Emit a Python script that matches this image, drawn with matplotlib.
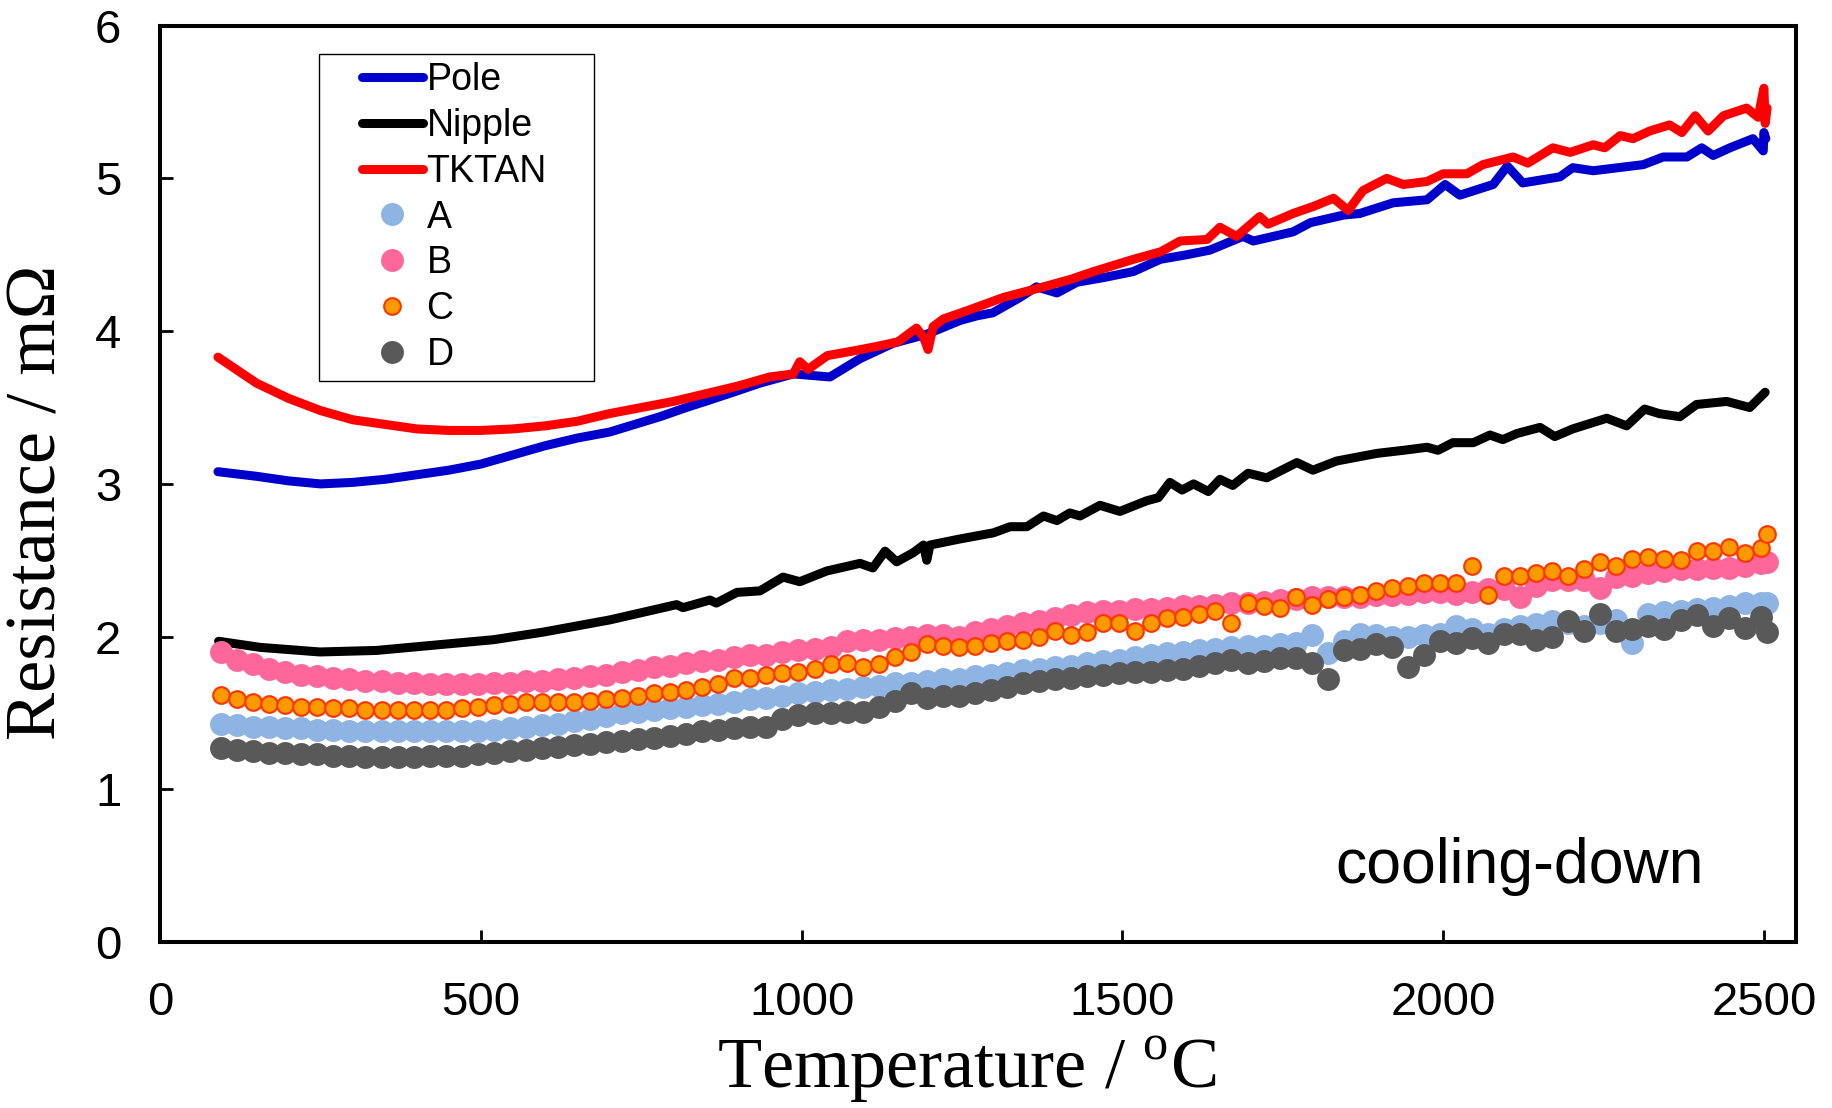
import matplotlib
matplotlib.use("Agg")
import matplotlib.pyplot as plt
from matplotlib.lines import Line2D
from matplotlib.legend_handler import HandlerLine2D

plt.rcParams['font.family'] = ['Liberation Sans', 'DejaVu Sans']
plt.rcParams['mathtext.fontset'] = 'custom'
plt.rcParams['mathtext.rm'] = 'Liberation Serif'

# --- line series ---
temp_pole = [90, 150, 200, 250, 300, 350, 400, 450, 500, 550,
             600, 650, 701, 740, 779, 820, 857, 900, 935, 987,
             1044, 1091, 1142, 1195, 1247, 1273, 1298, 1340, 1366, 1398,
             1429, 1470, 1517, 1559, 1600, 1636, 1688, 1704, 1766, 1793,
             1845, 1870, 1922, 1975, 2003, 2026, 2078, 2100, 2124, 2182,
             2202, 2234, 2312, 2343, 2380, 2403, 2421, 2447, 2483, 2499,
             2500, 2503]
res_pole = [3.08, 3.05, 3.02, 3.00, 3.01, 3.03, 3.06, 3.09, 3.13, 3.19,
            3.25, 3.30, 3.34, 3.39, 3.44, 3.50, 3.55, 3.61, 3.66, 3.72,
            3.70, 3.82, 3.92, 3.98, 4.07, 4.10, 4.12, 4.22, 4.29, 4.25,
            4.32, 4.35, 4.39, 4.47, 4.50, 4.53, 4.62, 4.59, 4.65, 4.71,
            4.76, 4.77, 4.84, 4.86, 4.96, 4.89, 4.96, 5.08, 4.97, 5.01,
            5.07, 5.05, 5.09, 5.14, 5.14, 5.20, 5.15, 5.20, 5.26, 5.18,
            5.30, 5.26]

temp_nipple = [91, 156, 249, 337, 441, 519, 597, 649, 701, 753,
               805, 815, 857, 867, 899, 935, 971, 997, 1039, 1091,
               1111, 1130, 1148, 1174, 1190, 1195, 1200, 1247, 1299, 1325,
               1351, 1377, 1398, 1418, 1434, 1465, 1496, 1538, 1556, 1574,
               1593, 1611, 1634, 1652, 1672, 1696, 1725, 1772, 1797, 1834,
               1859, 1897, 1938, 1975, 1992, 2015, 2047, 2073, 2093, 2115,
               2151, 2174, 2202, 2255, 2286, 2314, 2337, 2369, 2395, 2442,
               2478, 2502]
res_nipple = [1.97, 1.93, 1.90, 1.91, 1.95, 1.98, 2.03, 2.07, 2.11, 2.16,
              2.21, 2.19, 2.24, 2.22, 2.29, 2.30, 2.39, 2.36, 2.43, 2.48,
              2.45, 2.56, 2.49, 2.55, 2.60, 2.50, 2.60, 2.64, 2.68, 2.72,
              2.72, 2.79, 2.76, 2.81, 2.79, 2.86, 2.82, 2.89, 2.91, 3.01,
              2.96, 3.00, 2.95, 3.03, 2.99, 3.07, 3.04, 3.14, 3.09, 3.15,
              3.17, 3.20, 3.22, 3.24, 3.22, 3.27, 3.27, 3.32, 3.29, 3.33,
              3.37, 3.31, 3.36, 3.43, 3.38, 3.49, 3.46, 3.44, 3.52, 3.54,
              3.50, 3.60]

temp_tktan = [90, 150, 200, 250, 300, 350, 400, 450, 500, 550,
              600, 650, 700, 750, 800, 850, 900, 950, 987, 997,
              1010, 1040, 1080, 1117, 1150, 1179, 1190, 1197, 1205, 1221,
              1262, 1314, 1377, 1420, 1455, 1517, 1560, 1590, 1632, 1652,
              1678, 1714, 1727, 1766, 1800, 1829, 1852, 1875, 1912, 1938,
              1975, 2000, 2037, 2062, 2109, 2132, 2171, 2198, 2234, 2252,
              2276, 2296, 2322, 2353, 2372, 2393, 2413, 2437, 2473, 2491,
              2500, 2502, 2505]
res_tktan = [3.83, 3.66, 3.56, 3.48, 3.42, 3.39, 3.36, 3.35, 3.35, 3.36,
             3.38, 3.41, 3.46, 3.50, 3.54, 3.59, 3.64, 3.70, 3.72, 3.80,
             3.75, 3.84, 3.87, 3.90, 3.93, 4.02, 3.96, 3.88, 4.03, 4.08,
             4.14, 4.22, 4.29, 4.34, 4.39, 4.47, 4.52, 4.59, 4.60, 4.68,
             4.62, 4.75, 4.70, 4.77, 4.82, 4.87, 4.79, 4.92, 5.00, 4.96,
             4.98, 5.03, 5.03, 5.09, 5.14, 5.10, 5.20, 5.17, 5.22, 5.20,
             5.28, 5.26, 5.31, 5.35, 5.30, 5.41, 5.31, 5.41, 5.46, 5.40,
             5.59, 5.36, 5.46]

# --- point series A-D share one temperature list ---
temp_pts = [95, 120, 145, 170, 195, 220, 245, 270, 295, 320,
            345, 370, 395, 420, 445, 470, 495, 520, 545, 570,
            595, 620, 645, 670, 695, 720, 745, 770, 795, 820,
            845, 870, 895, 920, 945, 970, 995, 1020, 1045, 1070,
            1095, 1120, 1145, 1170, 1195, 1220, 1245, 1270, 1295, 1320,
            1345, 1370, 1395, 1420, 1445, 1470, 1495, 1520, 1545, 1570,
            1595, 1620, 1645, 1670, 1695, 1720, 1745, 1770, 1795, 1820,
            1845, 1870, 1895, 1920, 1945, 1970, 1995, 2020, 2045, 2070,
            2095, 2120, 2145, 2170, 2195, 2220, 2245, 2270, 2295, 2320,
            2345, 2370, 2395, 2420, 2445, 2470, 2495, 2505]

res_a = [1.43, 1.42, 1.41, 1.41, 1.40, 1.40, 1.39, 1.39, 1.38, 1.38,
         1.38, 1.38, 1.38, 1.38, 1.38, 1.38, 1.38, 1.39, 1.40, 1.41,
         1.42, 1.43, 1.45, 1.46, 1.48, 1.50, 1.51, 1.52, 1.53, 1.54,
         1.55, 1.56, 1.57, 1.59, 1.60, 1.61, 1.63, 1.64, 1.65, 1.66,
         1.67, 1.68, 1.70, 1.70, 1.71, 1.72, 1.72, 1.74, 1.75, 1.76,
         1.78, 1.79, 1.80, 1.81, 1.83, 1.84, 1.85, 1.87, 1.88, 1.89,
         1.90, 1.91, 1.92, 1.93, 1.94, 1.94, 1.95, 1.96, 2.01, 1.89,
         1.97, 2.02, 2.01, 2.00, 2.00, 2.01, 2.02, 2.07, 2.05, 2.02,
         2.05, 2.07, 2.08, 2.10, 2.09, 2.07, 2.09, 2.11, 1.96, 2.15,
         2.16, 2.17, 2.18, 2.19, 2.20, 2.22, 2.22, 2.22]

res_b = [1.90, 1.85, 1.82, 1.79, 1.77, 1.75, 1.74, 1.73, 1.72, 1.71,
         1.71, 1.70, 1.70, 1.69, 1.69, 1.69, 1.69, 1.70, 1.70, 1.71,
         1.71, 1.72, 1.73, 1.74, 1.75, 1.77, 1.78, 1.80, 1.81, 1.83,
         1.84, 1.85, 1.87, 1.88, 1.88, 1.90, 1.91, 1.92, 1.93, 1.97,
         1.98, 1.98, 1.99, 2.00, 2.01, 2.01, 2.00, 2.03, 2.05, 2.07,
         2.09, 2.10, 2.12, 2.14, 2.16, 2.17, 2.17, 2.18, 2.18, 2.19,
         2.20, 2.20, 2.21, 2.22, 2.22, 2.23, 2.24, 2.25, 2.26, 2.26,
         2.26, 2.26, 2.27, 2.27, 2.28, 2.29, 2.29, 2.28, 2.29, 2.31,
         2.31, 2.26, 2.33, 2.37, 2.37, 2.37, 2.32, 2.39, 2.40, 2.42,
         2.43, 2.44, 2.44, 2.45, 2.45, 2.46, 2.48, 2.49]

res_c = [1.62, 1.59, 1.57, 1.56, 1.55, 1.54, 1.54, 1.53, 1.53, 1.52,
         1.52, 1.52, 1.52, 1.52, 1.52, 1.53, 1.54, 1.55, 1.56, 1.57,
         1.57, 1.57, 1.57, 1.58, 1.59, 1.60, 1.61, 1.63, 1.64, 1.65,
         1.67, 1.69, 1.73, 1.73, 1.75, 1.76, 1.77, 1.79, 1.82, 1.83,
         1.80, 1.82, 1.87, 1.90, 1.95, 1.94, 1.93, 1.94, 1.96, 1.97,
         1.98, 2.00, 2.04, 2.01, 2.03, 2.09, 2.09, 2.04, 2.09, 2.12,
         2.13, 2.15, 2.17, 2.09, 2.22, 2.20, 2.19, 2.26, 2.21, 2.25,
         2.26, 2.27, 2.30, 2.32, 2.33, 2.35, 2.35, 2.35, 2.46, 2.27,
         2.40, 2.40, 2.42, 2.43, 2.40, 2.44, 2.49, 2.46, 2.51, 2.52,
         2.51, 2.50, 2.56, 2.56, 2.59, 2.55, 2.58, 2.67]

res_d = [1.27, 1.26, 1.25, 1.24, 1.24, 1.23, 1.23, 1.22, 1.22, 1.21,
         1.21, 1.21, 1.21, 1.22, 1.22, 1.22, 1.23, 1.24, 1.25, 1.26,
         1.27, 1.28, 1.29, 1.30, 1.31, 1.32, 1.33, 1.34, 1.35, 1.36,
         1.38, 1.39, 1.40, 1.41, 1.41, 1.46, 1.49, 1.50, 1.50, 1.51,
         1.51, 1.54, 1.58, 1.63, 1.60, 1.61, 1.61, 1.63, 1.65, 1.67,
         1.70, 1.71, 1.72, 1.73, 1.74, 1.75, 1.76, 1.77, 1.77, 1.78,
         1.79, 1.81, 1.83, 1.85, 1.83, 1.84, 1.86, 1.86, 1.83, 1.72,
         1.91, 1.92, 1.95, 1.93, 1.80, 1.88, 1.97, 1.96, 1.99, 1.96,
         2.02, 2.02, 1.98, 2.00, 2.10, 2.04, 2.15, 2.04, 2.05, 2.07,
         2.05, 2.11, 2.14, 2.07, 2.12, 2.06, 2.13, 2.03]

fig = plt.figure(figsize=(18.33, 11.08), dpi=100)
ax = fig.add_axes([0.0874, 0.1496, 0.8924, 0.8273])

lw = 6.5
line_kw = dict(linewidth=lw, solid_capstyle='round', solid_joinstyle='round')
ax.plot(temp_pole, res_pole, color='#0000CC', label='Pole', **line_kw)
ax.plot(temp_nipple, res_nipple, color='black', label='Nipple', **line_kw)
ax.plot(temp_tktan, res_tktan, color='#FF0000', label='TKTAN', **line_kw)

ax.plot(temp_pts, res_a, 'o', ms=16.5, color='#8DB4E2', mec='none', label='A')
ax.plot(temp_pts, res_b, 'o', ms=16.5, color='#FF6699', mec='none', label='B')
ax.plot(temp_pts, res_c, 'o', ms=12, mfc='#FF9900', mec='#FF3300', mew=1.5, label='C')
ax.plot(temp_pts, res_d, 'o', ms=16.5, color='#595959', mec='none', label='D')

ax.set_xlim(0, 2550)
ax.set_ylim(0, 6)
ax.set_xticks([0, 500, 1000, 1500, 2000, 2500])
ax.set_yticks([0, 1, 2, 3, 4, 5, 6])
ax.tick_params(direction='in', length=9, width=2, labelsize=34, pad=28)
for sp in ax.spines.values():
    sp.set_linewidth(2.9)

ax.set_xlabel('Temperature / $^{\\mathrm{o}}$C', fontsize=52,
              family='Liberation Serif', va='center')
ax.xaxis.set_label_coords(0.493, -0.139)
ax.set_ylabel('Resistance / m\u03a9', fontsize=52,
              family='Liberation Serif', va='center')
ax.yaxis.set_label_coords(-0.075, 0.48)

ax.text(0.831, 0.065, 'cooling-down', transform=ax.transAxes,
        fontsize=45, ha='center', va='baseline')

leg = ax.legend(loc='upper left', bbox_to_anchor=(0.097, 0.62, 0.168, 0.349),
                mode='expand', borderaxespad=0, fontsize=27, numpoints=1,
                frameon=True, fancybox=False, framealpha=1, edgecolor='black',
                borderpad=0.22, labelspacing=0.26, handlelength=2.55,
                handletextpad=0.1,
                handler_map={Line2D: HandlerLine2D(xpad=0.93)})
leg.get_frame().set_linewidth(1.0)

fig.savefig('out.png', dpi=100)
